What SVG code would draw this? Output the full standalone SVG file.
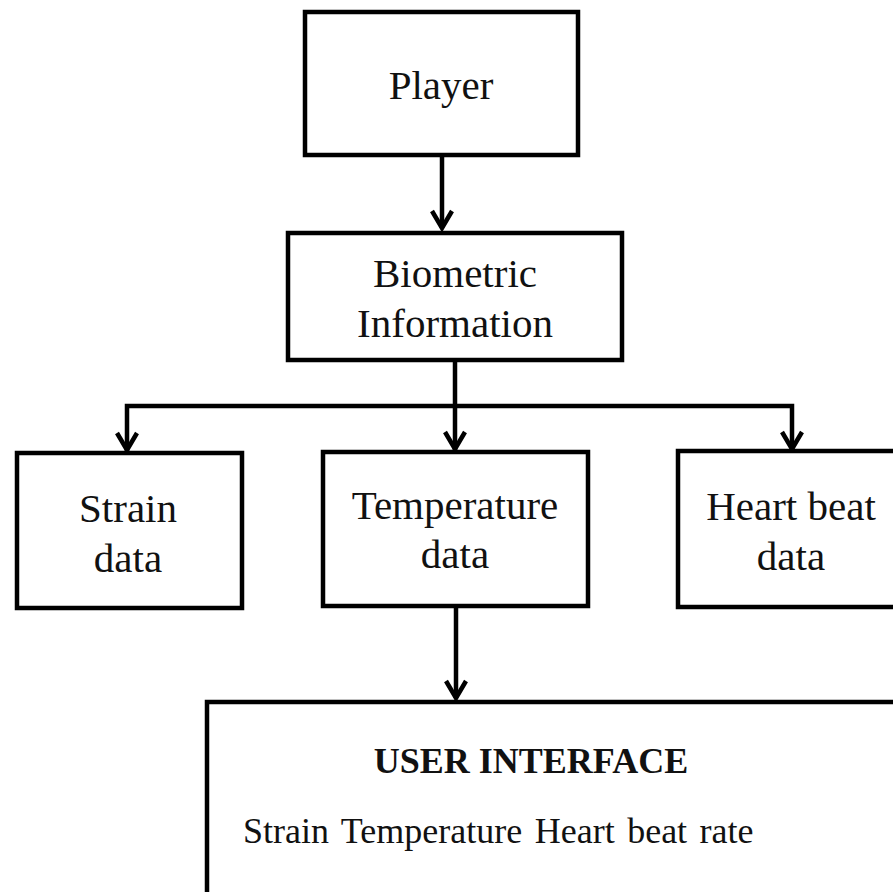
<svg xmlns="http://www.w3.org/2000/svg" width="893" height="892" viewBox="0 0 893 892">
<style>
.box{fill:#fff;stroke:#000;stroke-width:4.5}
.t{font-family:"Liberation Serif","Times New Roman",serif;font-size:41px;fill:#111;text-anchor:middle}
.ui{font-family:"Liberation Serif","Times New Roman",serif;font-size:36px;fill:#111}
.c{fill:none;stroke:#000;stroke-width:4.5}
.h{fill:none;stroke:#000;stroke-width:4.5;stroke-linejoin:miter}
</style>
<rect width="893" height="892" fill="#fff"/>
<g id="connectors">
<path class="c" d="M442 155V228"/>
<path class="h" d="M432 211L442 228L452 211"/>
<path class="c" d="M455 360V450"/>
<path class="c" d="M127 451V406H792V449"/>
<path class="h" d="M117 433L127 450L137 433"/>
<path class="h" d="M445 432L455 449L465 432"/>
<path class="h" d="M782 432L792 449L802 432"/>
<path class="c" d="M456 606V698"/>
<path class="h" d="M446 681L456 698L466 681"/>
</g>
<g id="player">
<rect class="box" x="305" y="12" width="273" height="143"/>
<text class="t" x="441" y="99">Player</text>
</g>
<g id="biometric">
<rect class="box" x="288" y="233" width="334" height="127"/>
<text class="t" x="455" y="287">Biometric</text>
<text class="t" x="455" y="337">Information</text>
</g>
<g id="strain">
<rect class="box" x="17" y="453" width="225" height="155"/>
<text class="t" x="128" y="522">Strain</text>
<text class="t" x="128" y="572">data</text>
</g>
<g id="temperature">
<rect class="box" x="323" y="452" width="265" height="154"/>
<text class="t" x="455" y="519">Temperature</text>
<text class="t" x="455" y="568">data</text>
</g>
<g id="heartbeat">
<rect class="box" x="678" y="451" width="230" height="156"/>
<text class="t" x="791" y="520">Heart beat</text>
<text class="t" x="791" y="570">data</text>
</g>
<g id="userinterface">
<rect class="box" x="207" y="702" width="700" height="210"/>
<text class="ui" x="531" y="773" text-anchor="middle" font-weight="bold">USER INTERFACE</text>
<text class="ui" x="243" y="843" word-spacing="3.5">Strain Temperature Heart beat rate</text>
</g>
</svg>
